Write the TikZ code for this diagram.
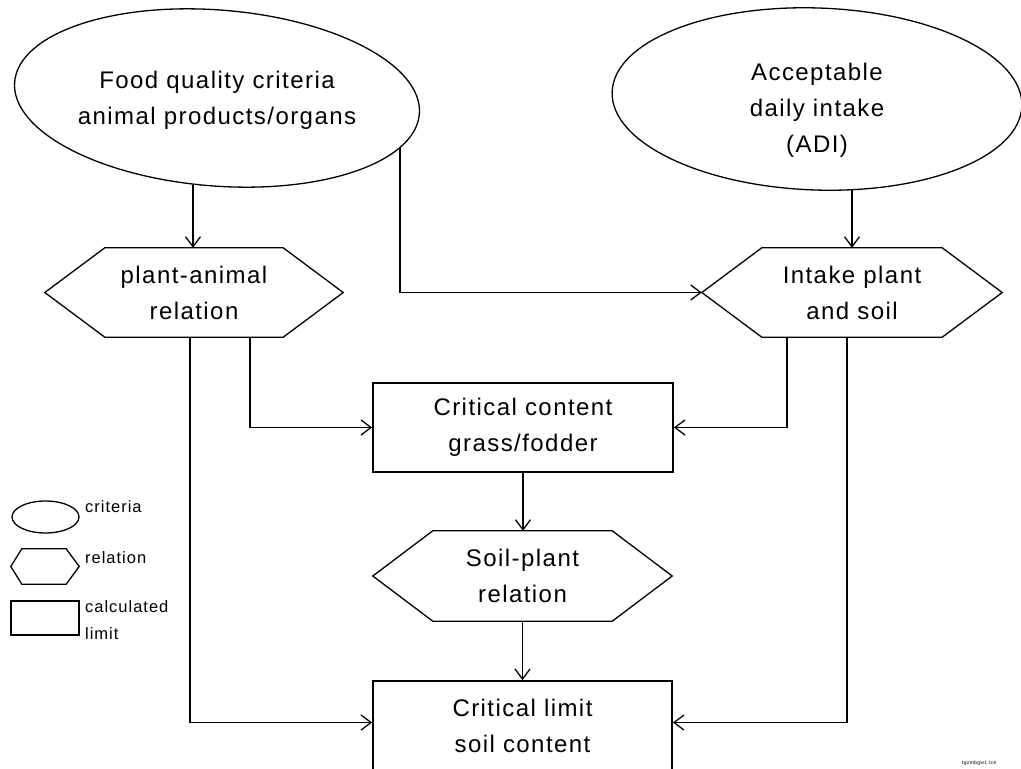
\documentclass[tikz,border=0pt]{standalone}
\usepackage{fontspec}
\setmainfont{Liberation Sans}[LetterSpace=6]
\usetikzlibrary{shapes.geometric,arrows.meta}
\pgfdeclarelayer{bg}
\pgfsetlayers{bg,main}
\begin{document}
\begin{tikzpicture}[x=1pt,y=-1pt,
  lbl/.style={font=\fontsize{24}{36}\selectfont, align=center, inner sep=0pt},
  leg/.style={font=\fontsize{16.5}{27}\selectfont, align=left, inner sep=0pt, anchor=west},
  crit/.style={ellipse, draw, fill=white, line width=1.3pt, inner sep=0pt},
  hexnode/.style={rectangle, draw=none, inner sep=0pt, minimum height=89pt, font=\fontsize{24}{36}\selectfont, align=center},
  hexline/.style={line width=1.3pt, line join=miter},
  limbox/.style={rectangle, draw, line width=1.8pt, inner sep=0pt, minimum width=300pt, minimum height=89pt, font=\fontsize{24}{36}\selectfont, align=center},
  arr/.style={line width=1.3pt, -{Straight Barb[length=10pt,width=15pt,line width=1.3pt]}}
]
\clip (0,0) rectangle (1021,769);
\begin{pgfonlayer}{bg}
\fill[white] (0,0) rectangle (1021,769);
\end{pgfonlayer}

% criteria ellipses
\node[crit, minimum width=406pt, minimum height=176pt, rotate=-4.5] (e1) at (217,98) {};
\node[lbl] (e1t) at (217,100.5) {Food quality criteria\\animal products/organs};
\node[crit, minimum width=410pt, minimum height=182pt, rotate=-2] (e2) at (817,99) {};
\node[lbl] (e2t) at (817,110) {Acceptable\\daily intake\\(ADI)};

% relation hexagons
\node[hexnode, minimum width=298pt] (h1) at (194,292.5) {plant-animal\\relation};
\node[hexnode, minimum width=300pt] (h2) at (852,292.5) {Intake plant\\and soil};
\node[hexnode, minimum width=299pt, minimum height=90pt] (h3) at (522.5,576) {Soil-plant\\relation};
\foreach \h in {h1,h2,h3}{
  \draw[hexline] (\h.west) -- ([xshift=60pt]\h.north west) -- ([xshift=-60pt]\h.north east)
     -- (\h.east) -- ([xshift=-60pt]\h.south east) -- ([xshift=60pt]\h.south west) -- cycle;
}

% calculated limits
\node[limbox] (b1) at (523,427.5) {Critical content\\grass/fodder};
\node[limbox, minimum width=299pt] (b2) at (522.5,725.5) {Critical limit\\soil content};

% connectors (ellipse ends start under the white-filled ellipses)
\begin{pgfonlayer}{bg}
\draw[arr] ([xshift=-24pt]e1.center) -- ([xshift=-24pt]e1.center |- h1.north);
\draw[arr] ([xshift=183pt]e1.center) |- (h2.west);
\draw[arr] ([xshift=35pt]e2.center) -- ([xshift=35pt]e2.center |- h2.north);
\end{pgfonlayer}
\draw[arr] ([xshift=56pt]h1.south) |- (b1.west);
\draw[arr] ([xshift=-4pt]h1.south) |- ([yshift=3pt]b2.west);
\draw[arr] ([xshift=-65pt]h2.south) |- (b1.east);
\draw[arr] ([xshift=-5pt]h2.south) |- ([yshift=3pt]b2.east);
\draw[arr] (b1.south) -- (b1.south |- h3.north);
\draw[arr] (h3.south) -- (h3.south |- b2.north);

% legend
\node[crit, minimum width=67pt, minimum height=32pt] (lgE) at (45.5,517) {};
\node[leg] (lgEt) at (85,507) {criteria};
\node[hexnode, minimum width=68pt, minimum height=35pt] (lgH) at (45,566.5) {};
\draw[hexline] (lgH.west) -- ([xshift=11pt]lgH.north west) -- ([xshift=-13pt]lgH.north east)
   -- (lgH.east) -- ([xshift=-13pt]lgH.south east) -- ([xshift=11pt]lgH.south west) -- cycle;
\node[leg] (lgHt) at (85,558) {relation};
\node[rectangle, draw, line width=1.8pt, minimum width=68pt, minimum height=34pt, inner sep=0pt] (lgB) at (45,618) {};
\node[leg] (lgBt) at (85,620.5) {calculated\\limit};

% file tag
\node[font=\fontsize{5}{6}\selectfont, inner sep=0pt, anchor=west] (tag) at (962,763) {tgzmbgw1.tce};
\end{tikzpicture}
\end{document}
